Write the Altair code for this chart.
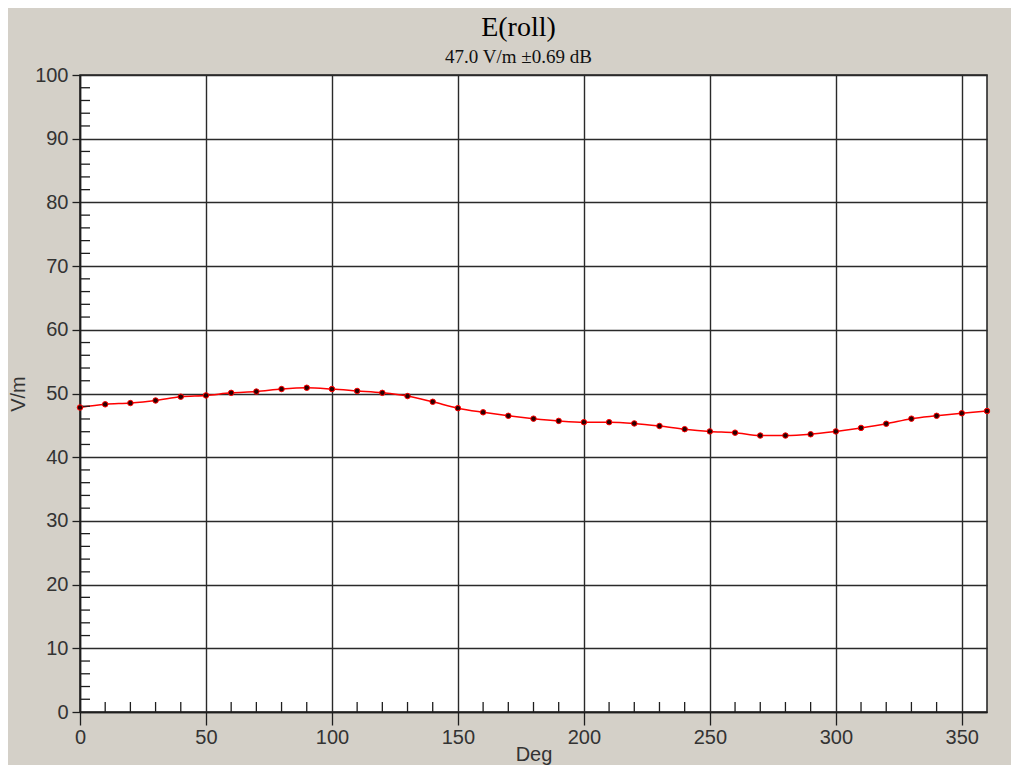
import altair as alt
import pandas as pd

# ---- data ----
deg = list(range(0, 361, 10))
vm = [47.8, 48.3, 48.5, 48.9, 49.5, 49.7, 50.1, 50.3, 50.7, 50.9,
      50.7, 50.4, 50.1, 49.6, 48.7, 47.7, 47.05, 46.5, 46.05, 45.7,
      45.5, 45.5, 45.3, 44.9, 44.4, 44.05, 43.85, 43.4, 43.4, 43.6,
      44.05, 44.6, 45.25, 46.05, 46.5, 46.9, 47.25]
x_major = [0, 50, 100, 150, 200, 250, 300, 350]
y_major = [0, 10, 20, 30, 40, 50, 60, 70, 80, 90, 100]
x_minor = [d for d in range(10, 360, 10) if d % 50 != 0]
y_minor = [v for v in range(2, 100, 2) if v % 10 != 0]

df = pd.DataFrame({"deg": deg, "vm": vm})

W, H = 907, 637
xscale = alt.Scale(domain=[0, 360], nice=False, zero=False)
yscale = alt.Scale(domain=[0, 100], nice=False, zero=True)

AXCOL = "#1e1e1e"
GRIDCOL = "#2a2a2a"

x_axis = alt.Axis(values=x_major, title="Deg", grid=True, gridColor=GRIDCOL,
                  gridWidth=1.4, gridOpacity=1, tickSize=13, tickColor=AXCOL,
                  tickWidth=1.3, domainColor=AXCOL, domainWidth=1.5,
                  labelFont="Liberation Sans", labelFontSize=20,
                  labelColor="#333333", labelPadding=2, labelFlush=False,
                  titleFont="Liberation Sans", titleFontSize=20,
                  titleFontWeight="normal", titleColor="#333333",
                  titlePadding=-3)
y_axis = alt.Axis(values=y_major, title="V/m", grid=True, gridColor=GRIDCOL,
                  gridWidth=1.4, gridOpacity=1, tickSize=8, tickColor=AXCOL,
                  tickWidth=1.3, domainColor=AXCOL, domainWidth=1.5,
                  labelFont="Liberation Sans", labelFontSize=20,
                  labelColor="#333333", labelPadding=4, labelFlush=False,
                  titleFont="Liberation Sans", titleFontSize=20,
                  titleFontWeight="normal", titleColor="#333333",
                  titlePadding=6)

line = alt.Chart(df).mark_line(color="#ff0000", strokeWidth=1.5,
                               interpolate="monotone").encode(
    x=alt.X("deg:Q", scale=xscale, axis=x_axis),
    y=alt.Y("vm:Q", scale=yscale, axis=y_axis),
)
pts = alt.Chart(df).mark_point(filled=True, shape="circle", size=30,
                               color="#2a0000", stroke="#ff0000",
                               strokeWidth=1, opacity=1).encode(
    x=alt.X("deg:Q", scale=xscale, axis=x_axis),
    y=alt.Y("vm:Q", scale=yscale, axis=y_axis),
)
xmin = alt.Chart(pd.DataFrame({"m": x_minor})).mark_rule(
    color=AXCOL, strokeWidth=1.3).encode(
    x=alt.X("m:Q", scale=xscale, axis=x_axis),
    y=alt.value(H - 10), y2=alt.value(H),
)
ymin = alt.Chart(pd.DataFrame({"m": y_minor})).mark_rule(
    color=AXCOL, strokeWidth=1.3).encode(
    y=alt.Y("m:Q", scale=yscale, axis=y_axis),
    x=alt.value(0), x2=alt.value(10),
)

chart = alt.layer(line, xmin, ymin, pts).properties(
    width=W, height=H,
    autosize=alt.AutoSizeParams(type="none"),
    padding={"left": 72, "top": 67, "right": 24, "bottom": 53},
    background="#D4D0C8",
    title=alt.TitleParams(text="E(roll)", subtitle="47.0 V/m ±0.69 dB",
                          font="Liberation Serif", fontSize=28,
                          fontWeight="normal", color="#000000",
                          subtitleFont="Liberation Serif",
                          subtitleFontSize=19, subtitleColor="#111111",
                          subtitlePadding=6, anchor="middle", frame="group",
                          offset=-2, dx=-15),
).configure_view(fill="white", stroke=AXCOL, strokeWidth=1.5)

chart.save("out.html", embed_options={"renderer": "svg", "actions": False})
